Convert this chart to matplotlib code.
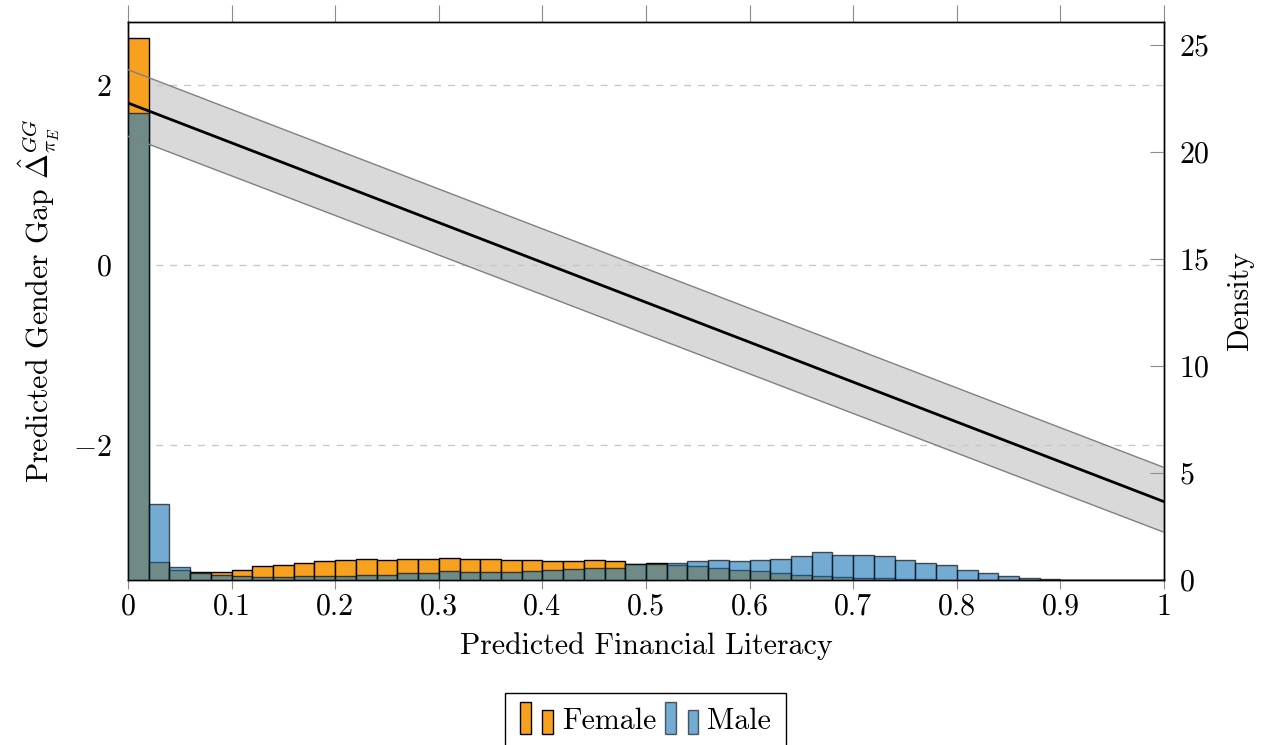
import numpy as np
import matplotlib
matplotlib.use("Agg")
import matplotlib.pyplot as plt
from matplotlib.patches import Rectangle, Patch
from matplotlib.legend_handler import HandlerBase

plt.rcParams['font.family'] = 'cmr10'
plt.rcParams['mathtext.fontset'] = 'cm'
plt.rcParams['axes.formatter.use_mathtext'] = True
plt.rcParams['axes.unicode_minus'] = True

# histogram densities, bins of width 0.02 from 0 to 1
bin_width = 0.02
bin_left = np.arange(50) * bin_width
female_density = [25.3, 0.86, 0.45, 0.39, 0.39, 0.48, 0.64, 0.69, 0.79, 0.89,
                  0.93, 0.98, 0.94, 0.97, 1.00, 1.03, 0.98, 0.98, 0.93, 0.93,
                  0.90, 0.89, 0.92, 0.90, 0.76, 0.78, 0.72, 0.64, 0.55, 0.48,
                  0.42, 0.31, 0.25, 0.19, 0.14, 0.11, 0.08, 0.05, 0.03, 0.02,
                  0.01, 0.0, 0.0, 0.0, 0.0, 0.0, 0.0, 0.0, 0.0, 0.0]
male_density = [21.8, 3.55, 0.61, 0.32, 0.23, 0.20, 0.12, 0.16, 0.19, 0.20,
                0.19, 0.25, 0.25, 0.31, 0.34, 0.40, 0.37, 0.39, 0.39, 0.42,
                0.48, 0.53, 0.56, 0.58, 0.77, 0.77, 0.81, 0.90, 0.92, 0.87,
                0.92, 0.98, 1.12, 1.29, 1.17, 1.18, 1.12, 0.93, 0.79, 0.69,
                0.47, 0.33, 0.20, 0.09, 0.05, 0.0, 0.0, 0.0, 0.0, 0.0]

# predicted gender gap with confidence band
fl_points = [0.0, 1.0]
gap_fit = [1.80, -2.63]
gap_upper = [2.17, -2.25]
gap_lower = [1.43, -2.97]

female_color = '#F8A11E'
male_color = '#2A80BD'
fs = 21.5


class TwoBarHandler(HandlerBase):
    # pgfplots style ybar legend: two little bars
    def create_artists(self, legend, orig_handle, xdescent, ydescent,
                       width, height, fontsize, trans):
        w = width * 0.3
        arts = []
        for x0, h in [(0.0, height * 1.55), (width * 0.62, height * 1.15)]:
            r = Rectangle((x0 - xdescent, -ydescent - height * 0.25), w, h,
                          facecolor=orig_handle.get_facecolor(),
                          edgecolor=orig_handle.get_edgecolor(),
                          linewidth=1.0, transform=trans)
            arts.append(r)
        return arts


fig = plt.figure(figsize=(12.61, 7.45), dpi=100)
ax = fig.add_axes([0.1015, 0.2215, 0.8216, 0.749])
ax2 = ax.twinx()

# band fill under the bars
ax.fill_between(fl_points, gap_lower, gap_upper, color='#D9D9D9', linewidth=0, zorder=1)
ax.set_yticks([-2, 0, 2])
ax.grid(axis='y', linestyle=(0, (5, 5)), color='#C8C8C8', linewidth=1.0)
ax.set_xlim(0, 1)
ax.set_ylim(-3.5, 2.70)

# histograms
ax2.bar(bin_left, female_density, width=bin_width, align='edge',
        color=female_color, edgecolor='black', linewidth=1.0, zorder=2)
ax2.bar(bin_left, male_density, width=bin_width, align='edge',
        color=male_color, edgecolor='black', linewidth=1.0, alpha=0.66, zorder=3)
ax2.set_ylim(0, 26.07)
ax2.set_yticks([0, 5, 10, 15, 20, 25])

# fitted line and band edges over the bars
ax2.plot(fl_points, gap_upper, color='#808080', linewidth=1.0, transform=ax.transData, zorder=4)
ax2.plot(fl_points, gap_lower, color='#808080', linewidth=1.0, transform=ax.transData, zorder=4)
ax2.plot(fl_points, gap_fit, color='black', linewidth=2.0, transform=ax.transData, zorder=5)
ax2.set_xlim(0, 1)

ax.set_xticks(np.round(np.arange(0, 1.01, 0.1), 1))
ax.set_xticklabels(['0', '0.1', '0.2', '0.3', '0.4', '0.5', '0.6', '0.7', '0.8', '0.9', '1'])
ax.tick_params(axis='x', which='major', direction='out', length=6.5, width=0.8,
               color='#8C8C8C', labelsize=fs, pad=3, top=True, labeltop=False)
for t in ax.xaxis.get_major_ticks():
    t.tick2line.set_markersize(12)
ax.tick_params(axis='y', length=0, labelsize=fs, pad=12)
ax2.tick_params(axis='y', direction='in', length=10, width=0.8, color='#8C8C8C',
                labelsize=fs, pad=11)

for a in (ax, ax2):
    for s in a.spines.values():
        s.set_linewidth(1.0)
        s.set_color('black')

ax.set_xlabel('Predicted Financial Literacy', fontsize=fs, labelpad=8)
ax.set_ylabel(r'Predicted Gender Gap $\hat{\Delta}^{GG}_{\pi_E}$', fontsize=fs, labelpad=8)
ax2.set_ylabel('Density', fontsize=fs, labelpad=12)

handles = [Patch(facecolor=female_color, edgecolor='black'),
           Patch(facecolor=(0.165, 0.5, 0.74, 0.66), edgecolor=(0, 0, 0, 0.6))]
leg = fig.legend(handles, ['Female', 'Male'], loc='upper center',
                 bbox_to_anchor=(0.512, 0.070), ncol=2, fontsize=fs,
                 frameon=True, fancybox=False, edgecolor='black', framealpha=1,
                 handlelength=1.2, handletextpad=0.2, columnspacing=0.3,
                 borderpad=0.5, borderaxespad=0,
                 handler_map={Patch: TwoBarHandler()})
leg.get_frame().set_linewidth(1.0)

fig.savefig('out.png', dpi=100)
